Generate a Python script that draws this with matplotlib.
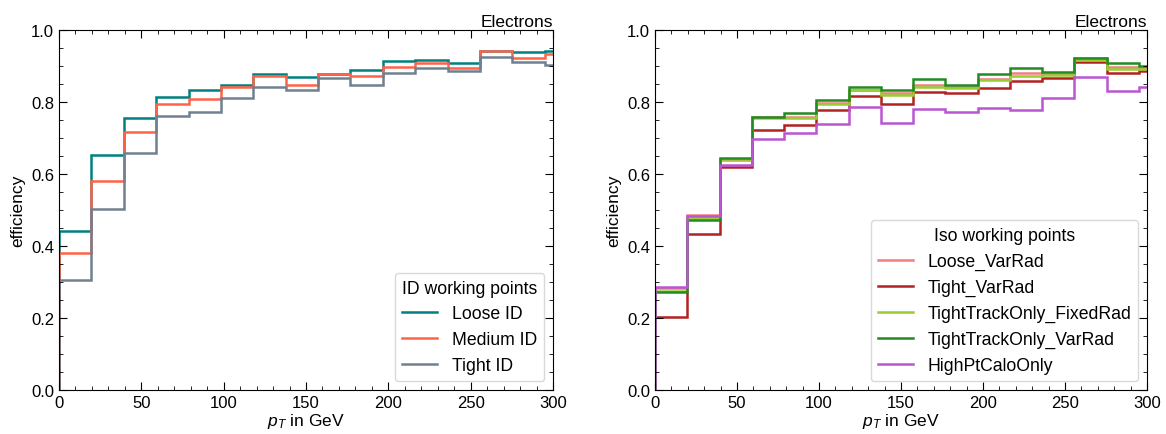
import numpy as np
import matplotlib
matplotlib.use("Agg")
import matplotlib.pyplot as plt
from matplotlib.ticker import MultipleLocator

plt.rcParams["font.family"] = ["Liberation Sans", "DejaVu Sans"]
plt.rcParams["mathtext.fontset"] = "custom"
plt.rcParams["mathtext.it"] = "Liberation Sans:italic"
plt.rcParams["mathtext.rm"] = "Liberation Sans"

# bin edges in GeV (16 bins of 59/3 GeV, last one runs past 300)
edges = np.arange(17) * 59 / 3

id_labels = ["Loose ID", "Medium ID", "Tight ID"]
id_colors = ["teal", "tomato", "slategray"]
loose_id = [0.441, 0.653, 0.756, 0.815, 0.834, 0.847, 0.878, 0.869,
            0.879, 0.889, 0.914, 0.917, 0.909, 0.942, 0.939, 0.942]
medium_id = [0.381, 0.580, 0.718, 0.794, 0.807, 0.841, 0.872, 0.848,
             0.879, 0.872, 0.898, 0.909, 0.895, 0.942, 0.922, 0.932]
tight_id = [0.306, 0.503, 0.658, 0.761, 0.773, 0.810, 0.843, 0.833,
            0.867, 0.848, 0.880, 0.895, 0.886, 0.926, 0.912, 0.902]

iso_labels = ["Loose_VarRad", "Tight_VarRad", "TightTrackOnly_FixedRad",
              "TightTrackOnly_VarRad", "HighPtCaloOnly"]
iso_colors = ["lightcoral", "firebrick", "yellowgreen", "forestgreen", "mediumorchid"]
loose_varrad = [0.282, 0.486, 0.638, 0.757, 0.757, 0.797, 0.834, 0.825,
                0.847, 0.843, 0.864, 0.880, 0.877, 0.921, 0.898, 0.895]
tight_varrad = [0.204, 0.432, 0.619, 0.723, 0.736, 0.777, 0.818, 0.794,
                0.829, 0.826, 0.839, 0.858, 0.866, 0.910, 0.880, 0.885]
tto_fixedrad = [0.275, 0.477, 0.643, 0.755, 0.756, 0.795, 0.832, 0.819,
                0.843, 0.840, 0.860, 0.871, 0.875, 0.918, 0.893, 0.893]
tto_varrad = [0.271, 0.473, 0.645, 0.758, 0.769, 0.806, 0.841, 0.832,
              0.865, 0.847, 0.877, 0.894, 0.883, 0.923, 0.909, 0.900]
highpt_calo = [0.285, 0.482, 0.626, 0.697, 0.713, 0.740, 0.787, 0.741,
               0.780, 0.771, 0.784, 0.779, 0.810, 0.869, 0.831, 0.841]

id_series = [loose_id, medium_id, tight_id]
iso_series = [loose_varrad, tight_varrad, tto_fixedrad, tto_varrad, highpt_calo]

fig = plt.figure(figsize=(11.66, 4.35), dpi=100)
ax1 = fig.add_axes([59 / 1166, 1 - 391 / 435, 494 / 1166, 360 / 435])
ax2 = fig.add_axes([655 / 1166, 1 - 391 / 435, 492 / 1166, 360 / 435])


def style(ax):
    ax.set_xlim(0, 300)
    ax.set_ylim(0, 1)
    ax.xaxis.set_major_locator(MultipleLocator(50))
    ax.xaxis.set_minor_locator(MultipleLocator(10))
    ax.yaxis.set_major_locator(MultipleLocator(0.2))
    ax.yaxis.set_minor_locator(MultipleLocator(0.05))
    ax.tick_params(which="both", direction="in", top=True, right=True, labelsize=12)
    ax.tick_params(which="major", length=6)
    ax.tick_params(which="minor", length=3)
    ax.set_xlabel("$p_T$ in GeV", fontsize=12.5, labelpad=1)
    ax.set_ylabel("efficiency", fontsize=12.5)
    ax.set_title("Electrons", loc="right", fontsize=12.5, pad=3)


for vals, lab, col in zip(id_series, id_labels, id_colors):
    ax1.stairs(vals, edges, color=col, lw=1.8, label=lab)
style(ax1)
ax1.legend(title="ID working points", loc="lower right", fontsize=12.7,
           title_fontsize=12.7, frameon=True, fancybox=True, edgecolor="#d0d0d0")

for vals, lab, col in zip(iso_series, iso_labels, iso_colors):
    ax2.stairs(vals, edges, color=col, lw=1.8, label=lab)
style(ax2)
ax2.legend(title="Iso working points", loc="lower right", fontsize=12.7,
           title_fontsize=12.7, frameon=True, fancybox=True, edgecolor="#d0d0d0")

fig.savefig("out.png", dpi=100)
